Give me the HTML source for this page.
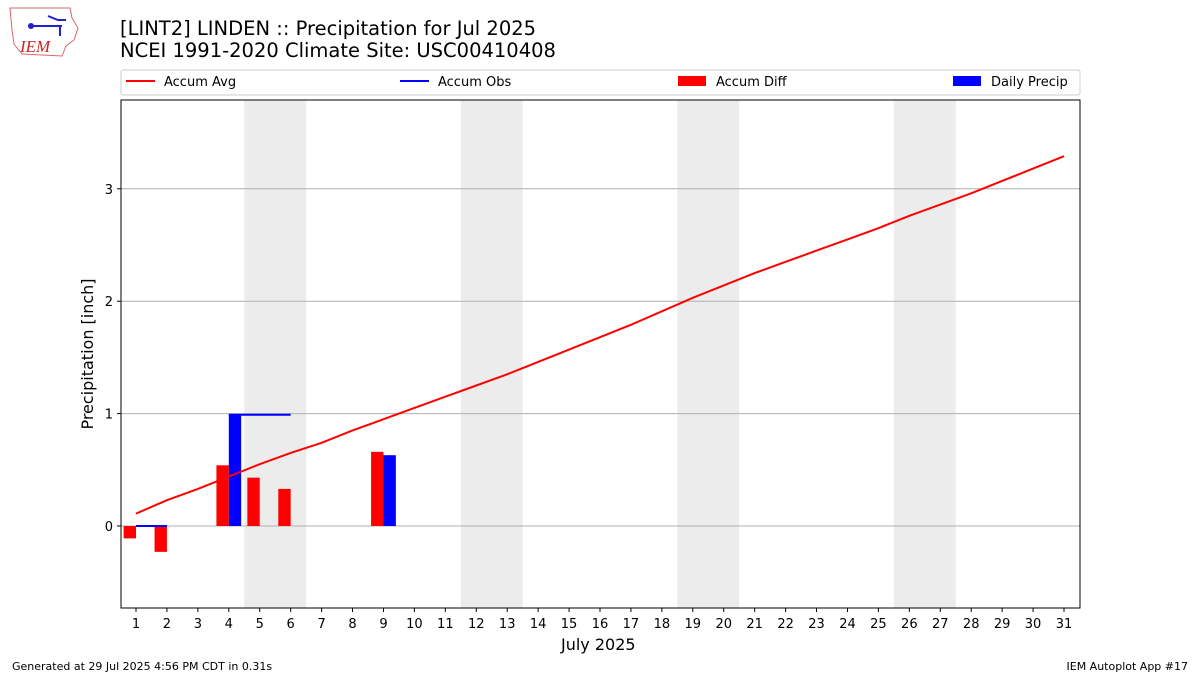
<!DOCTYPE html>
<html><head><meta charset="utf-8"><style>
body{margin:0;background:#fff;font-family:"Liberation Sans","DejaVu Sans",sans-serif;}
svg text{font-family:"DejaVu Sans","Liberation Sans",sans-serif;}
</style></head><body>
<svg id="c" width="1200" height="675" xmlns="http://www.w3.org/2000/svg">
<g>
<path d="M10,8 L70,8 L72,18 L78,28 L74,40 L66,46 L62,56 L22,54 L14,44 L12,30 Z" fill="none" stroke="#d66" stroke-width="1"/>
<line x1="28" y1="26" x2="62" y2="26" stroke="#22c" stroke-width="2"/>
<circle cx="31" cy="26" r="3" fill="#22c"/>
<path d="M48,16 L58,20 L66,20" stroke="#22c" stroke-width="2" fill="none"/>
<line x1="60" y1="26" x2="60" y2="36" stroke="#22c" stroke-width="2"/>
<text x="20" y="52" font-size="17" fill="#c22" font-style="italic" style="font-family:'Liberation Serif',serif">IEM</text>
</g>
<text x="120" y="35" font-size="19.5" fill="#000">[LINT2] LINDEN :: Precipitation for Jul 2025</text>
<text x="120" y="57" font-size="19.5" fill="#000">NCEI 1991-2020 Climate Site: USC00410408</text>
<g>
<rect x="121" y="70" width="959" height="25" fill="#fff" stroke="#ccc" rx="2"/>
<line x1="126" y1="81" x2="155" y2="81" stroke="red" stroke-width="2"/>
<text x="164" y="86" font-size="13">Accum Avg</text>
<line x1="400" y1="81" x2="429" y2="81" stroke="blue" stroke-width="2"/>
<text x="438" y="86" font-size="13">Accum Obs</text>
<rect x="678" y="76" width="28" height="10" fill="red"/>
<text x="716" y="86" font-size="13">Accum Diff</text>
<rect x="953" y="76" width="28" height="10" fill="blue"/>
<text x="991" y="86" font-size="13">Daily Precip</text>
</g>
<g id="plot"></g>
<text x="561" y="650" font-size="16">July 2025</text>
<text transform="translate(93,354) rotate(-90)" font-size="16" text-anchor="middle">Precipitation [inch]</text>
<text x="12" y="670" font-size="11">Generated at 29 Jul 2025 4:56 PM CDT in 0.31s</text>
<text x="1188" y="670" font-size="11" text-anchor="end">IEM Autoplot App #17</text>
</svg>
<script>
const days=[];for(let d=1;d<=31;d++)days.push(d);
const accumAvg=[0.11,0.23,0.33,0.44,0.55,0.65,0.74,0.85,0.95,1.05,1.15,1.25,1.35,1.46,1.57,1.68,1.79,1.91,2.03,2.14,2.25,2.35,2.45,2.55,2.65,2.76,2.86,2.96,3.07,3.18,3.29];
const obsSeg1Days=[1,2];const obsSeg1=[0,0];
const obsSeg2Days=[4,5,6];const obsSeg2=[0.99,0.99,0.99];
const diffDays=[1,2,4,5,6,9];const diffVals=[-0.11,-0.23,0.54,0.43,0.33,0.66];
const dailyDays=[4,9];const dailyVals=[0.99,0.63];
const weekendStarts=[5,12,19,26];
const yTicks=[0,1,2,3];
const NS='http://www.w3.org/2000/svg';
const L=121,R=1080,T=100,B=608;
const x=d=>136+(d-1)*(1064-136)/30;
const y=v=>526-v*112.4;
const g=document.getElementById('plot');
function el(t,a){const e=document.createElementNS(NS,t);for(const k in a)e.setAttribute(k,a[k]);g.appendChild(e);return e;}
weekendStarts.forEach(s=>{const e=el('rect',{x:x(s-0.5),y:T,width:x(s+1.5)-x(s-0.5),height:B-T,fill:'#ececec'});

});
yTicks.forEach(v=>{const e=el('line',{x1:L,x2:R,y1:y(v),y2:y(v),stroke:'#b0b0b0','stroke-width':1});


el('line',{x1:L-4,x2:L,y1:y(v),y2:y(v),stroke:'#000'});
const t=el('text',{x:L-8,y:y(v)+5,'font-size':13,'text-anchor':'end'});t.textContent=v;

});
days.forEach(d=>{el('line',{x1:x(d),x2:x(d),y1:B,y2:B+4,stroke:'#000'});
const t=el('text',{x:x(d),y:B+20,'font-size':13,'text-anchor':'middle'});t.textContent=d;

});
const bw=x(1.4)-x(1);
diffDays.forEach((d,i)=>{const v=diffVals[i];const e=el('rect',{x:x(d-0.2)-bw/2,y:Math.min(y(v),y(0)),width:bw,height:Math.abs(y(v)-y(0)),fill:'red'});

});
dailyDays.forEach((d,i)=>{const v=dailyVals[i];const e=el('rect',{x:x(d+0.2)-bw/2,y:y(v),width:bw,height:y(0)-y(v),fill:'blue'});

});
function line(ds,vs,c,n){const e=el('polyline',{points:ds.map((d,i)=>x(d)+','+y(vs[i])).join(' '),fill:'none',stroke:c,'stroke-width':2});

}
line(obsSeg1Days,obsSeg1,'blue','accum-obs-line');
line(obsSeg2Days,obsSeg2,'blue','accum-obs-line');
line(days,accumAvg,'red','accum-avg-line');
el('rect',{x:L,y:T,width:R-L,height:B-T,fill:'none',stroke:'#000','stroke-width':1});
</script>
</body></html>
